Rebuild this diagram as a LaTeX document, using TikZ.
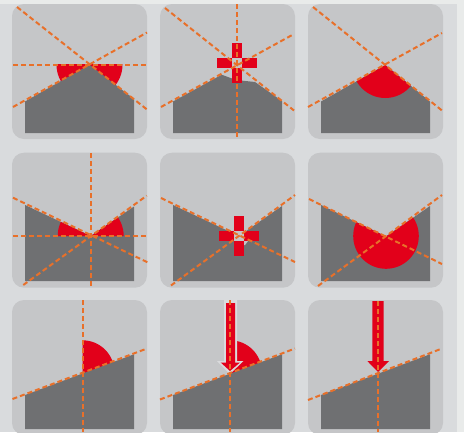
\documentclass[tikz,border=0pt]{standalone}
\definecolor{bgc}{HTML}{D9DBDD}
\definecolor{edgec}{HTML}{E9EBEA}
\definecolor{panelc}{HTML}{C5C6C8}
\definecolor{slabc}{HTML}{6F7072}
\definecolor{redc}{HTML}{E2001A}
\definecolor{orangec}{HTML}{E8702A}
\definecolor{haloc}{HTML}{DADBDD}
\tikzset{
  panelbox/.style={fill=panelc,rounded corners=12pt},
  slab/.style={fill=slabc},
  redfill/.style={fill=redc},
  axis/.style={draw=orangec,line width=2pt,dash pattern=on 5pt off 3pt},
  holefill/.style={fill=panelc},
  halo/.style={fill=haloc}
}
\newcommand{\panelat}[2]{\fill[panelbox] (#1,#2) rectangle ++(135,135);}
\begin{document}
\begin{tikzpicture}[x=1pt,y=-1pt]
\useasboundingbox (0,0) rectangle (464,432);
\fill[bgc] (0,0) rectangle (464,432);
\fill[edgec] (0,0) rectangle (464,4);
\fill[edgec] (457,0) rectangle (464,432);
\begin{scope}
\clip (0,0) rectangle (464,432);
\panelat{12}{4}\panelat{160}{4}\panelat{308}{4}
\panelat{12}{152.7}\panelat{160}{152.7}\panelat{308}{152.7}
\panelat{12}{300}\panelat{160}{300}\panelat{308}{300}
\end{scope}

% Row 1, panel 1
\begin{scope}
\clip (25,64.7) rectangle (150,110);
\fill[redfill] (89.5,64.7) circle (33);
\end{scope}
\fill[slab] (25,101.5) -- (89.5,64.7) -- (134,99) -- (134,133) -- (25,133) -- cycle;
\draw[axis] (13,64.7) -- (147,64.7);
\draw[axis] (17,7) -- (147,109.5);
\draw[axis] (13,107) -- (147,32.5);

% Row 1, panel 2
\fill[slab] (173,101.5) -- (221.7,74.7) -- (236,80) -- (255,82) -- (282,101) -- (282,133) -- (173,133) -- cycle;
\fill[redfill] (232,43) rectangle (242,83);
\fill[redfill] (217,58) rectangle (257,68);
\fill[holefill] (232,58) rectangle (242,68);
\draw[axis] (236.7,4) -- (236.7,137);
\draw[axis] (165,8) -- (294,110.5);
\draw[axis] (161,107) -- (294,34);

% Row 1, panel 3
\fill[slab] (321,101.5) -- (385.3,65) -- (430,101.5) -- (430,133) -- (321,133) -- cycle;
\begin{scope}
\clip (321,101.5) -- (385.3,65) -- (430,101.5) -- (430,133) -- (321,133) -- cycle;
\fill[redfill] (385.3,65) circle (33);
\end{scope}
\draw[axis] (313,7) -- (442,110.5);
\draw[axis] (308,107) -- (442,33);

% Row 2, panel 1
\fill[slab] (25,205) -- (90.7,236) -- (134,206.5) -- (134,281) -- (25,281) -- cycle;
\begin{scope}
\clip (25,205) -- (90.7,236) -- (134,206.5) -- (134,236) -- (25,236) -- cycle;
\fill[redfill] (90.7,236) circle (33);
\end{scope}
\draw[axis] (13,197.7) -- (147.5,262.3);
\draw[axis] (23.3,285) -- (146.7,195.7);
\draw[axis] (13,235.7) -- (147,235.7);
\draw[axis] (90.7,153) -- (90.7,286);

% Row 2, panel 2
\fill[slab] (173,205) -- (239,236) -- (282,206) -- (282,281) -- (173,281) -- cycle;
\fill[holefill] (244,241) -- (248,241) -- (245,245) -- (244,245) -- cycle;
\fill[redfill] (234,216) rectangle (244,256);
\fill[redfill] (219,231) rectangle (259,241);
\fill[holefill] (234,231) rectangle (244,241);
\draw[axis] (161,198) -- (295,262);
\draw[axis] (171,285.5) -- (295,195);

% Row 2, panel 3
\fill[slab] (321,205) -- (386,236.5) -- (430,206) -- (430,281) -- (321,281) -- cycle;
\begin{scope}
\clip (321,205) -- (386,236.5) -- (430,206) -- (430,281) -- (321,281) -- cycle;
\fill[redfill] (386,236) circle (32.8);
\end{scope}
\draw[axis] (309,199) -- (442,264);
\draw[axis] (318,286) -- (442,195);

% Row 3, panel 1
\begin{scope}
\clip (82.5,335) rectangle (120,375);
\fill[redfill] (82.5,372.3) circle (32);
\end{scope}
\fill[slab] (25,395) -- (134,354.3) -- (134,429) -- (25,429) -- cycle;
\draw[axis] (82.5,300) -- (82.5,432);
\draw[axis] (12.5,399) -- (147,348.5);

% Row 3, panel 2
\begin{scope}
\clip (230,335) rectangle (268,375);
\fill[redfill] (230,372.3) circle (32);
\end{scope}
\fill[slab] (173,395) -- (282,354.3) -- (282,429) -- (173,429) -- cycle;
\fill[halo] (224,300) -- (237,300) -- (237,361) -- (243.5,361) -- (230,374) -- (217,361) -- (224,361) -- cycle;
\fill[redfill] (226,303) -- (235,303) -- (235,362.5) -- (240,362.5) -- (230,371) -- (220.7,362.5) -- (226,362.5) -- cycle;
\draw[axis] (230,300) -- (230,432);
\draw[axis] (160,399.5) -- (295,348.5);

% Row 3, panel 3
\fill[slab] (321,395) -- (430,354.3) -- (430,429) -- (321,429) -- cycle;
\fill[redfill] (372.3,301) -- (383.7,301) -- (383.7,361) -- (389,361) -- (378,372) -- (367.3,361) -- (372.3,361) -- cycle;
\draw[axis] (378,301) -- (378,432);
\draw[axis] (308,400) -- (442,348.5);
\end{tikzpicture}
\end{document}
